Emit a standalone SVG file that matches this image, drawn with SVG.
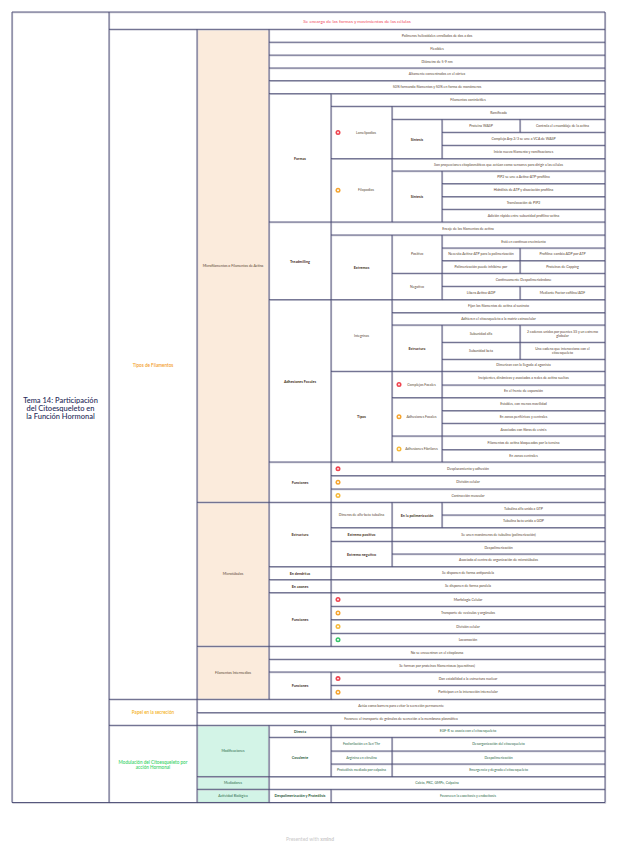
<svg xmlns="http://www.w3.org/2000/svg" xmlns:xlink="http://www.w3.org/1999/xlink" width="618" height="848" viewBox="0 0 618 848">
<style>
.t{font-family:Lato,"Open Sans","Liberation Sans",sans-serif;font-size:3.5px;fill:#5a4632;text-anchor:middle;dominant-baseline:central}
.b{font-weight:700;font-size:3.7px;fill:#45301d}
.gr{fill:#2e6b4b}
.gb{font-weight:700;fill:#1f5a38}
.cat{font-size:4.6px;font-weight:600}
.ttl{font-size:7.5px;font-weight:500;fill:#262a58}
.peach{fill:#fbebdc}
.mint{fill:#d3f4e7;stroke:#bfe9d6;stroke-width:0.6}
</style>
<defs>
<path id="grid" fill="none" d="M12 12H605V802.5H12Z
M109 29.3H605 M269 42.2H605 M269 55.1H605 M269 68H605 M269 80.7H605 M269 93.7H605
M331 106.3H605 M392 119.3H605 M442 132.3H605 M442 145.3H605 M331 158.7H605 M392 171H605
M442 183.7H605 M442 196.7H605 M442 209.3H605 M269 222H605 M331 235H605 M442 248H605
M442 260.7H605 M392 273.3H605 M442 286.3H605 M269 299.7H605 M392 312.7H605 M392 325H605
M442 342.3H605 M442 359.3H605 M331 371.3H605 M442 385H605 M392 397.7H605 M442 410.7H605
M442 423.3H605 M392 436H605 M442 449.7H605 M269 462H605 M331 475.7H605 M331 489H605
M197 502.3H605 M442 515H605 M331 527.7H605 M331 541.3H605 M392 554H605 M269 566.7H605
M269 579.7H605 M269 592.7H605 M331 606.3H605 M331 619.7H605 M331 633.3H605 M197 646.3H605
M269 659.3H605 M269 672H605 M331 685.3H605 M109 699.3H605 M197 712.7H605 M109 725.3H605
M269 737.3H605 M331 751H605 M331 764H605 M197 776.7H605 M197 789.3H605
M109 12V802.5 M197 29.3V802.5 M269 29.3V699.3 M269 725.3V802.5
M331 93.7V646.3 M331 672V699.3 M331 725.3V776.7 M331 789.3V802.5
M392 106.3V222 M392 235V462 M392 502.3V566.7 M392 737.3V776.7
M442 119.3V158.7 M442 171V222 M442 235V299.7 M442 325V462 M442 502.3V527.7
M520 119.3V132.3 M520 248V273.3 M520 286.3V299.7 M520 325V359.3"/>
<g id="ic-red"><circle r="2.5" fill="#ef4450"/><circle r="0.9" fill="#fff"/></g>
<g id="ic-org"><circle r="2.5" fill="#f5a430"/><circle r="1" fill="#fff"/></g>
<g id="ic-yel"><circle r="2.5" fill="#f6b93b"/><circle r="1" fill="#fff"/></g>
<g id="ic-grn"><circle r="2.5" fill="#36c46a"/><circle r="1" fill="#fff"/></g>
</defs>
<rect width="618" height="848" fill="#ffffff"/>
<g id="backgrounds">
<rect class="peach" x="197.5" y="29.8" width="71" height="472"/>
<rect class="peach" x="197.5" y="502.8" width="71" height="143"/>
<rect class="peach" x="197.5" y="646.8" width="71" height="52"/>
<rect class="mint" x="198" y="726" width="70" height="50"/>
<rect class="mint" x="198" y="777.4" width="70" height="11.2"/>
<rect class="mint" x="198" y="790" width="70" height="11.8"/>
</g>
<g id="connectors">
<use href="#grid" transform="translate(0.7 0.8)" stroke="#c3c3cf" stroke-width="0.9"/>
<use href="#grid" stroke="#45466f" stroke-width="0.9"/>
</g>
<g id="n-title"><text class="t ttl" x="60.5" y="400">Tema 14: Participación</text><text class="t ttl" x="60.5" y="408.4">del Citoesqueleto en</text><text class="t ttl" x="60.5" y="416.8">la Función Hormonal</text></g>
<g id="n-top"><text class="t" style="font-size:4.6px;fill:#f04a5c" x="357" y="21">Se encarga de las formas y movimientos de las células</text></g>
<g id="n-tipos"><text class="t cat" style="fill:#f39c2a" x="153" y="364.5">Tipos de Filamentos</text></g>
<g id="n-papel"><text class="t cat" style="fill:#f5b21e" x="153" y="712.3">Papel en la secreción</text></g>
<g id="n-modulacion"><text class="t cat" style="fill:#3cd46a" x="153" y="761.5">Modulación del Citoesqueleto por</text><text class="t cat" style="fill:#3cd46a" x="153" y="766.8">acción Hormonal</text></g>

<g id="n-microfilamentos"><text class="t" x="233" y="266">Microfilamentos o Filamentos de Actina</text></g>
<g id="mf-props">
<text class="t" x="437" y="35.8">Polímeros helicoidales enrollados de dos a dos</text>
<text class="t" x="437" y="48.6">Flexibles</text>
<text class="t" x="437" y="61.5">Diámetro de 5-9 nm</text>
<text class="t" x="437" y="74.3">Altamente concentrados en el córtex</text>
<text class="t" x="437" y="87.2">50% formando filamentos y 50% en forma de monómeros</text>
</g>
<g id="n-formas"><text class="t b" x="300" y="158">Formas</text>
<text class="t" x="468" y="100">Filamentos contráctiles</text></g>
<g id="n-lamelipodios"><use href="#ic-red" x="338" y="132.5"/><text class="t" x="366" y="132.5">Lamelipodios</text>
<text class="t" x="498.5" y="112.8">Ramificada</text>
<text class="t b" x="417" y="139">Síntesis</text>
<text class="t" x="481" y="125.8">Proteína WASP</text>
<text class="t" x="562.5" y="125.8">Controla el ensamblaje de la actina</text>
<text class="t" x="523.5" y="138.8">Complejo Arp 2/3 se une a VCA de WASP</text>
<text class="t" x="523.5" y="152">Inicio nuevo filamento y ramificaciones</text></g>
<g id="n-filopodios"><use href="#ic-org" x="338" y="190.3"/><text class="t" x="366" y="190.3">Filopodios</text>
<text class="t" x="498.5" y="164.9">Son proyecciones citoplasmáticas que actúan como sensores para dirigir a las células</text>
<text class="t b" x="417" y="196.5">Síntesis</text>
<text class="t" x="523.5" y="177.4">PIP2 se une a Actina-ATP-profilina</text>
<text class="t" x="523.5" y="190.2">Hidrólisis de ATP y disociación profilina</text>
<text class="t" x="523.5" y="203">Translocación de PIP2</text>
<text class="t" x="523.5" y="215.7">Adición rápida entre subunidad profilina-actina</text></g>
<g id="n-treadmilling"><text class="t b" x="300" y="261">Treadmilling</text>
<text class="t" x="468" y="228.5">Encaje de los filamentos de actina</text>
<text class="t b" x="361.5" y="267.4">Extremos</text>
<text class="t" x="417" y="254.2">Positivo</text>
<text class="t" x="523.5" y="241.5">Está en continuo crecimiento</text>
<text class="t" x="481" y="254.4">Necesita Actina-ATP para la polimerización</text>
<text class="t" x="562.5" y="254.4">Profilina: cambia ADP por ATP</text>
<text class="t" x="481" y="267">Polimerización puede inhibirse por</text>
<text class="t" x="562.5" y="267">Proteínas de Capping</text>
<text class="t" x="417" y="286.5">Negativo</text>
<text class="t" x="523.5" y="279.8">Continuamente Despolimerizándose</text>
<text class="t" x="481" y="293">Libera Actina-ADP</text>
<text class="t" x="562.5" y="293">Mediante Factor cofilina/ADF</text></g>
<g id="n-adhesiones"><text class="t b" x="300" y="381">Adhesiones Focales</text>
<text class="t" x="361.5" y="335.5">Integrinas</text>
<text class="t" x="498.5" y="306.2">Fijan los filamentos de actina al sustrato</text>
<text class="t" x="498.5" y="318.9">Adhieren el citoesqueleto a la matriz extracelular</text>
<text class="t b" x="417" y="348.3">Estructura</text>
<text class="t" x="481" y="333.7">Subunidad alfa</text>
<text class="t" x="562.5" y="331.5">2 cadenas unidas por puentes SS y un extremo</text>
<text class="t" x="562.5" y="335.8">globular</text>
<text class="t" x="481" y="350.8">Subunidad beta</text>
<text class="t" x="562.5" y="348.6">Una cadena que interacciona con el</text>
<text class="t" x="562.5" y="352.9">citoesqueleto</text>
<text class="t" x="523.5" y="365.3">Dimerizan con la llegada al agonista</text>
<text class="t b" x="361.5" y="416.7">Tipos</text>
<use href="#ic-red" x="399" y="384.5"/><text class="t" x="421.5" y="384.5">Complejos Focales</text>
<text class="t" x="523.5" y="378.2">Incipientes, dinámicos y asociados a redes de actina sueltas</text>
<text class="t" x="523.5" y="391.3">En el frente de expansión</text>
<use href="#ic-org" x="399" y="416.8"/><text class="t" x="421.5" y="416.8">Adhesiones Focales</text>
<text class="t" x="523.5" y="404.2">Estables, con menos movilidad</text>
<text class="t" x="523.5" y="417">En zonas periféricas y centrales</text>
<text class="t" x="523.5" y="429.7">Asociadas con fibras de estrés</text>
<use href="#ic-yel" x="399" y="449"/><text class="t" x="421.5" y="449">Adhesiones Fibrilares</text>
<text class="t" x="523.5" y="442.8">Filamentos de actina bloqueados por la tensina</text>
<text class="t" x="523.5" y="455.8">En zonas centrales</text></g>
<g id="n-mf-funciones"><text class="t b" x="300" y="482">Funciones</text>
<use href="#ic-red" x="338" y="468.8"/><text class="t" x="468" y="468.8">Desplazamiento y adhesión</text>
<use href="#ic-org" x="338" y="482.3"/><text class="t" x="468" y="482.3">División celular</text>
<use href="#ic-yel" x="338" y="495.6"/><text class="t" x="468" y="495.6">Contracción muscular</text></g>

<g id="n-microtubulos"><text class="t" x="233" y="574">Microtúbulos</text></g>
<g id="n-mt-estructura"><text class="t b" x="300" y="534.5">Estructura</text>
<text class="t" x="361.5" y="515">Dímeros de alfa-beta tubulina</text>
<text class="t b" x="417" y="515">En la polimerización</text>
<text class="t" x="523.5" y="508.6">Tubulina alfa unida a GTP</text>
<text class="t" x="523.5" y="521.4">Tubulina beta unida a GDP</text>
<text class="t b" x="361.5" y="534.5">Extremo positivo</text>
<text class="t" x="498.5" y="534.5">Se unen monómeros de tubulina (polimerización)</text>
<text class="t b" x="361.5" y="554">Extremo negativo</text>
<text class="t" x="498.5" y="547.7">Despolimerización</text>
<text class="t" x="498.5" y="560.3">Asociado al centro de organización de microtúbulos</text></g>
<g id="n-dendritas"><text class="t b" x="300" y="573.2">En dendritas</text><text class="t" x="468" y="573.2">Se disponen de forma antiparalela</text></g>
<g id="n-axones"><text class="t b" x="300" y="586.2">En axones</text><text class="t" x="468" y="586.2">Se disponen de forma paralela</text></g>
<g id="n-mt-funciones"><text class="t b" x="300" y="619.5">Funciones</text>
<use href="#ic-red" x="338" y="599.5"/><text class="t" x="468" y="599.5">Morfología Celular</text>
<use href="#ic-org" x="338" y="613"/><text class="t" x="468" y="613">Transporte de vesículas y orgánulos</text>
<use href="#ic-yel" x="338" y="626.5"/><text class="t" x="468" y="626.5">División celular</text>
<use href="#ic-grn" x="338" y="639.8"/><text class="t" x="468" y="639.8">Locomoción</text></g>

<g id="n-intermedios"><text class="t" x="233" y="672.8">Filamentos Intermedios</text>
<text class="t" x="437" y="652.8">No se encuentran en el citoplasma</text>
<text class="t" x="437" y="665.7">Se forman por proteínas filamentosas (queratinas)</text></g>
<g id="n-fi-funciones"><text class="t b" x="300" y="685.7">Funciones</text>
<use href="#ic-red" x="338" y="678.6"/><text class="t" x="468" y="678.6">Dan estabilidad a la estructura nuclear</text>
<use href="#ic-org" x="338" y="692.3"/><text class="t" x="468" y="692.3">Participan en la interacción intercelular</text></g>

<g id="n-secrecion"><text class="t" x="401" y="706">Actúa como barrera para evitar la secreción permanente</text>
<text class="t" x="401" y="719">Favorece el transporte de gránulos de secreción a la membrana plasmática</text></g>

<g id="n-modificaciones"><text class="t gr" x="233" y="751">Modificaciones</text>
<text class="t b gb" x="300" y="731.3">Directa</text>
<text class="t gr" x="468" y="731.3">EGF-R se asocia con el citoesqueleto</text>
<text class="t b gb" x="300" y="757">Covalente</text>
<text class="t gr" x="361.5" y="744.2">Fosforilación en Ser/Thr</text>
<text class="t gr" x="498.5" y="744.2">Desorganización del citoesqueleto</text>
<text class="t gr" x="361.5" y="757.5">Arginina en citrulina</text>
<text class="t gr" x="498.5" y="757.5">Despolimerización</text>
<text class="t gr" x="361.5" y="770.4">Proteólisis mediada por calpaína</text>
<text class="t gr" x="498.5" y="770.4">Emergencia y degrada el citoesqueleto</text></g>
<g id="n-mediadores"><text class="t gr" x="233" y="783">Mediadores</text><text class="t gr" x="437" y="783">Calcio, PKC, GMPc, Calpaína</text></g>
<g id="n-actividad"><text class="t gr" x="233" y="795.8">Actividad Biológica</text>
<text class="t b gb" x="300" y="795.8">Despolimerización y Proteólisis</text>
<text class="t gr" x="468" y="795.8">Favorecen la exocitosis y endocitosis</text></g>

<g id="footer"><text x="310" y="841" style="font-family:Lato,'Liberation Sans',sans-serif;font-size:5px;fill:#c9c9c9;text-anchor:middle">Presented with <tspan font-weight="700">xmind</tspan></text></g>
</svg>
